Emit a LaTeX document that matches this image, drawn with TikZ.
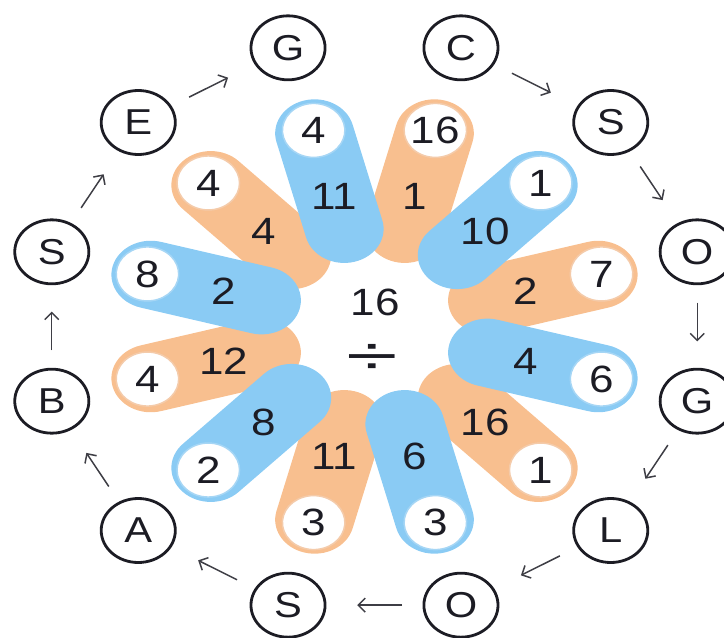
\documentclass[tikz,border=0pt]{standalone}
\usepackage{fontspec}
\setmainfont{Liberation Sans}
\usetikzlibrary{calc,arrows.meta}
\definecolor{ink}       {HTML}{1C1C24}
\definecolor{petalblue} {HTML}{8ACBF4}
\definecolor{petalpeach}{HTML}{F8BF8F}
\definecolor{ringblue}  {HTML}{A6D6F5}
\definecolor{ringpeach} {HTML}{F4CBAA}
\tikzset{
  % --- nodes
  letter/.style = {circle, draw=ink, line width=2.8pt, minimum size=64pt, inner sep=0pt,
                   transform shape, text=ink, font=\fontsize{36}{36}\selectfont},
  num/.style    = {inner sep=0pt, transform shape, text=ink, font=\fontsize{38}{38}\selectfont},
  % --- edges
  hop/.style    = {-{Straight Barb[length=7pt,width=14pt]}, line width=1.5pt, draw=ink!85},
}
\begin{document}
\begin{tikzpicture}[x=1pt,y=1pt]
  \useasboundingbox (-374.5,-311.5) rectangle (349.5,326.5);
  \begin{scope}[xscale=1.158]
    % petals, peach ones first so the blue ones lie on top
    \foreach \a/\o/\m/\c [count=\k] in {75/16/1/peach,15/7/2/peach,-45/1/16/peach,
        -105/3/11/peach,-165/4/12/peach,135/4/4/peach,
        105/4/11/blue,45/1/10/blue,-15/6/4/blue,-75/3/6/blue,-135/2/8/blue,165/8/2/blue} {
      \begin{scope}[rotate=\a]
        \fill[petal\c] (101,-34) -- (200,-34) arc[start angle=-90,end angle=90,radius=34]
          -- (101,34) arc[start angle=90,end angle=270,radius=34] -- cycle;
        \filldraw[fill=white, draw=ring\c, line width=1.5pt] (203,0) circle[radius=27];
      \end{scope}
      \node[num] (o\k) at (\a:203) {\o};
      \node[num] (m\k) at (\a:135) {\m};
    }
    \node[num] (top) at (0.5,24) {16};
    \node[num, xscale=1.5, font=\fontsize{54}{54}\selectfont] (div) at (-2,-33) {÷};
    % letters round the ring
    \foreach \a/\t [count=\i] in {75/C,45/S,15/O,-15/G,-45/L,-75/O,-105/S,-135/A,
        -165/B,165/S,135/E,105/G}
      \node[letter] (w\i) at (\a:288.5) {\t};
    \foreach \i [evaluate=\i as \j using int(\i+1)] in {1,...,11}
      \draw[hop] ($(w\i)!0.34!(w\j)$) -- ($(w\i)!0.6!(w\j)$);
  \end{scope}
\end{tikzpicture}
\end{document}
